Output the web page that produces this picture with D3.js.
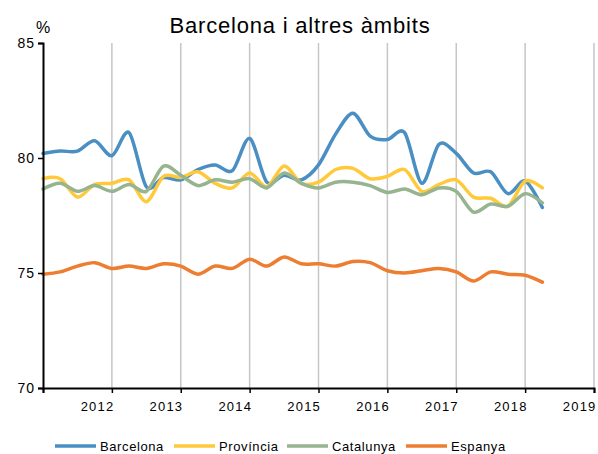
<!DOCTYPE html>
<html>
<head>
<meta charset="utf-8">
<script src="https://cdn.jsdelivr.net/npm/d3@7"></script>
<style>
  body { margin: 0; background: #fff; }
  svg { font-family: "Liberation Sans", Arial, sans-serif; }
</style>
</head>
<body>
<svg id="chart" width="598" height="454"></svg>
<script>
// quarters shown on the chart
const periods = [
  "2011-T1","2011-T2","2011-T3","2011-T4",
  "2012-T1","2012-T2","2012-T3","2012-T4",
  "2013-T1","2013-T2","2013-T3","2013-T4",
  "2014-T1","2014-T2","2014-T3","2014-T4",
  "2015-T1","2015-T2","2015-T3","2015-T4",
  "2016-T1","2016-T2","2016-T3","2016-T4",
  "2017-T1","2017-T2","2017-T3","2017-T4",
  "2018-T1","2018-T2"
]

const barcelona = [80.2, 80.3, 80.3, 80.75, 80.1, 81.1, 78.75, 79.15, 79.05, 79.5, 79.7, 79.45, 80.85, 78.95, 79.25, 79.05, 79.7, 81.05, 81.95, 80.95, 80.8, 81.1, 78.9, 80.6, 80.2, 79.35, 79.4, 78.45, 79.0, 77.85]
const provincia = [79.1, 79.1, 78.3, 78.85, 78.9, 79.05, 78.1, 79.2, 79.15, 79.4, 78.9, 78.7, 79.35, 78.75, 79.65, 78.9, 78.95, 79.5, 79.55, 79.1, 79.2, 79.5, 78.55, 78.85, 79.05, 78.3, 78.25, 77.9, 79.0, 78.7]
const catalunya = [78.65, 78.9, 78.55, 78.8, 78.55, 78.85, 78.55, 79.65, 79.25, 78.8, 79.05, 78.95, 79.1, 78.7, 79.35, 78.9, 78.7, 78.95, 78.95, 78.8, 78.5, 78.65, 78.4, 78.7, 78.55, 77.65, 78.0, 77.9, 78.45, 78.05]
const espanya = [74.95, 75.05, 75.3, 75.45, 75.2, 75.3, 75.2, 75.4, 75.3, 74.95, 75.3, 75.2, 75.6, 75.3, 75.7, 75.4, 75.4, 75.3, 75.5, 75.45, 75.1, 75.0, 75.1, 75.2, 75.05, 74.65, 75.05, 74.95, 74.9, 74.6]

const seriesNames = ["Barcelona", "Província", "Catalunya", "Espanya"]
const seriesValues = [barcelona, provincia, catalunya, espanya]
const seriesColors = ["#4a8fc3", "#ffc93a", "#96b48f", "#ed7d31"]

const yTicks = [70, 75, 80, 85]
const xTicks = [2011, 2012, 2013, 2014, 2015, 2016, 2017, 2018, 2019]
const xLabels = ["", "2012", "2013", "2014", "2015", "2016", "2017", "2018", "2019"]

const svg = d3.select("#chart")
const plot = {left: 43, right: 594, top: 43, bottom: 388}

function toYear(p) {
  const [y, q] = p.split("-T")
  return +y + (+q - 1) / 4
}

const x = d3.scaleLinear().domain([2011, 2019]).range([plot.left, plot.right])
const y = d3.scaleLinear().domain([70, 85]).range([plot.bottom, plot.top])

// title
svg.append("text")
  .attr("x", 300)
  .attr("y", 33)
  .attr("text-anchor", "middle")
  .attr("font-size", 22)
  .attr("letter-spacing", 0.8)
  .attr("fill", "#000")
  .text("Barcelona i altres àmbits")

svg.append("text")
  .attr("x", 36)
  .attr("y", 33)
  .attr("font-size", 16)
  .text("%")

// vertical gridlines
svg.append("g")
  .selectAll("line")
  .data(xTicks.slice(1))
  .enter().append("line")
  .attr("x1", d => x(d)).attr("x2", d => x(d))
  .attr("y1", plot.top).attr("y2", plot.bottom)
  .attr("stroke", "#c6c6c6")
  .attr("stroke-width", 1.5)

// lines
const line = d3.line()
  .x((d, i) => x(toYear(periods[i])))
  .y(d => y(d))
  .curve(d3.curveCardinal.tension(0.1))

svg.append("g")
  .selectAll("path")
  .data(seriesValues)
  .enter().append("path")
  .attr("d", d => line(d))
  .attr("fill", "none")
  .attr("stroke", (d, i) => seriesColors[i])
  .attr("stroke-width", 3.5)
  .attr("stroke-linejoin", "round")
  .attr("stroke-linecap", "round")

// y axis
const yAxis = svg.append("g")
  .attr("transform", `translate(${plot.left},0)`)
  .call(d3.axisLeft(y).tickValues(yTicks).tickSize(5).tickPadding(3))
yAxis.select(".domain").attr("stroke", "#000").attr("stroke-width", 2)
yAxis.selectAll(".tick line").attr("stroke", "#000").attr("stroke-width", 1.5)
yAxis.selectAll(".tick text")
  .attr("font-size", 14)
  .attr("font-family", "Liberation Sans, Arial, sans-serif")
  .attr("letter-spacing", 1)
  .attr("fill", "#000")

// x axis
const xAxis = svg.append("g")
  .attr("transform", `translate(0,${plot.bottom})`)
  .call(d3.axisBottom(x).tickValues(xTicks).tickSize(5).tickFormat((d, i) => xLabels[i]))
xAxis.select(".domain").attr("stroke", "#000").attr("stroke-width", 2)
xAxis.selectAll(".tick line").attr("stroke", "#000").attr("stroke-width", 1.5)
xAxis.selectAll(".tick text")
  .attr("font-size", 13)
  .attr("font-family", "Liberation Sans, Arial, sans-serif")
  .attr("letter-spacing", 1.2)
  .attr("fill", "#000")
  .attr("text-anchor", "end")
  .attr("x", 2)
  .attr("y", 14)

// legend
const legendX = [55, 174, 287, 406]
const legend = svg.append("g")
  .selectAll("g")
  .data(seriesNames)
  .enter().append("g")
  .attr("transform", (d, i) => `translate(${legendX[i]},446)`)

legend.append("line")
  .attr("x1", 0).attr("x2", 41)
  .attr("stroke", (d, i) => seriesColors[i])
  .attr("stroke-width", 3.5)

legend.append("text")
  .attr("x", 45)
  .attr("y", 5)
  .attr("font-size", 13)
  .attr("letter-spacing", 0.6)
  .attr("fill", "#000")
  .text(d => d)
</script>
</body>
</html>
